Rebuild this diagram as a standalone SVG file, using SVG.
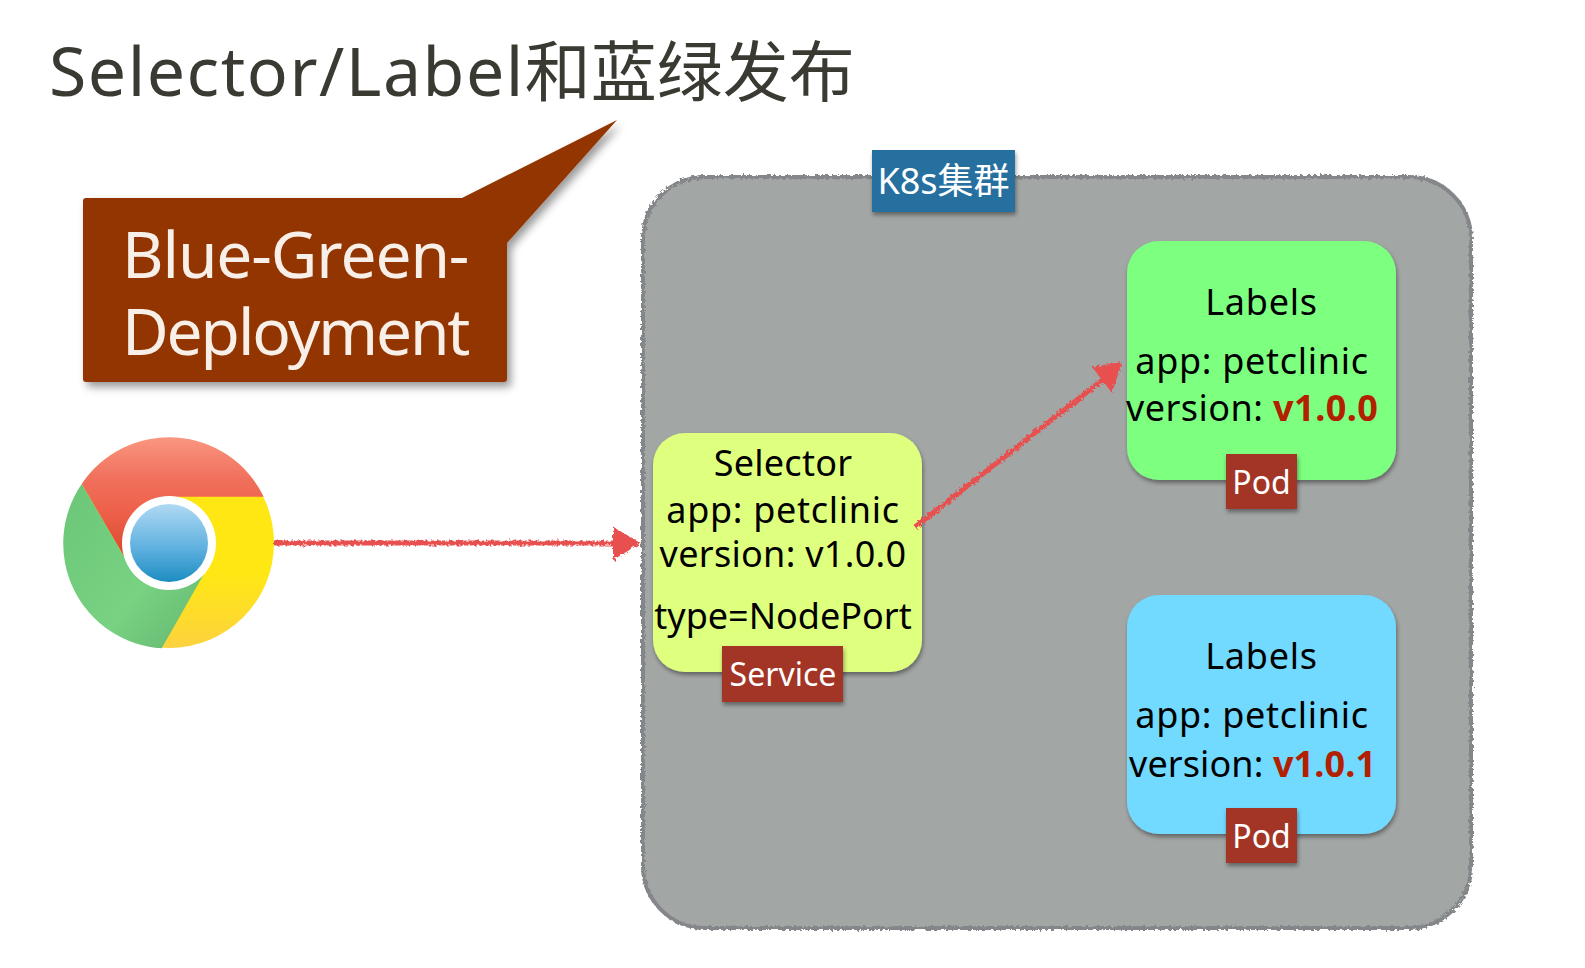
<svg xmlns="http://www.w3.org/2000/svg" width="1585" height="968" viewBox="0 0 1585 968">
<style>
text{font-family:"Noto Sans","Noto Sans CJK SC",sans-serif}
.t{font-size:36px;fill:#000;text-anchor:middle}
.app{letter-spacing:.7px}
.lab{letter-spacing:.75px}
.tag{font-size:32px;fill:#fff;text-anchor:middle}
.b{font-weight:700;fill:#b32000}
.tagbox{fill:#a33526;filter:url(#sh)}
.node{filter:url(#sh)}
.arrow{stroke:#e8504f;stroke-width:5;fill:none}
.head{fill:#e8504f}
.big{font-size:64px;fill:#f8f0e8}
</style>
<defs>
<filter id="sh" x="-20%" y="-20%" width="140%" height="140%"><feDropShadow dx="1" dy="3" stdDeviation="2" flood-color="#000" flood-opacity=".4"/></filter>
<filter id="sh2" x="-20%" y="-20%" width="140%" height="140%"><feDropShadow dx="4" dy="5" stdDeviation="4" flood-color="#000" flood-opacity=".4"/></filter>
<filter id="rough" x="-5%" y="-5%" width="110%" height="110%"><feTurbulence type="fractalNoise" baseFrequency=".35" numOctaves="2" seed="3"/><feDisplacementMap in="SourceGraphic" scale="5"/></filter>
<linearGradient id="r" x1="0" y1="0" x2="0" y2="1"><stop offset="0" stop-color="#fa9680"/><stop offset=".35" stop-color="#f0705c"/><stop offset=".65" stop-color="#ee5f49"/><stop offset="1" stop-color="#d9492f"/></linearGradient>
<linearGradient id="g" x1="0" y1="0" x2="1" y2="1"><stop offset="0" stop-color="#6cc678"/><stop offset=".6" stop-color="#78d282"/><stop offset="1" stop-color="#63b56f"/></linearGradient>
<linearGradient id="y" x1="0" y1="0" x2="0" y2="1"><stop offset="0" stop-color="#ffe714"/><stop offset=".65" stop-color="#ffe714"/><stop offset="1" stop-color="#fcd23e"/></linearGradient>
<linearGradient id="bl" x1="0" y1="0" x2="0" y2="1"><stop offset="0" stop-color="#b0d9f3"/><stop offset=".6" stop-color="#5aaede"/><stop offset="1" stop-color="#1d8cc0"/></linearGradient>
</defs>
<rect width="1585" height="968" fill="#fff"/>
<text x="49" y="96" font-size="68" fill="#3a3a33" id="title"><tspan letter-spacing="1.5">Selector/Label</tspan><tspan font-size="66">和蓝绿发布</tspan></text>
<g id="callout">
<path d="M83 201q0-3 3-3H462L617 120 507 243V379q0 3-3 3H86q-3 0-3-3Z" fill="#933500" filter="url(#sh2)"/>
<text class="big" x="122" y="278" letter-spacing="-1.1">Blue-Green-</text>
<text class="big" x="122" y="355" letter-spacing="-2.1">Deployment</text>
</g>
<g id="browser" transform="translate(1 1)">
<circle cx="168" cy="542" r="105" fill="url(#y)"/>
<path d="M80.7 483A105 105 0 0 1 262.7 495.7H168.3L122.7 555Z" fill="url(#r)"/>
<path d="M80.7 483L122.7 555 203 573 160.7 647.3A105 105 0 0 1 80.7 483Z" fill="url(#g)"/>
<circle cx="168" cy="542" r="47" fill="#fff"/>
<circle cx="168" cy="542" r="39" fill="url(#bl)"/>
</g>
<g id="cluster">
<rect x="643" y="177" width="828" height="751" rx="62" fill="#a2a6a4" stroke="#84868a" stroke-width="4" filter="url(#rough)"/>
<rect x="872" y="150" width="143" height="62" fill="#27709f" filter="url(#sh)"/>
<text x="943.5" y="194" font-size="36" fill="#fff" text-anchor="middle">K8s集群</text>
</g>
<g id="service">
<rect class="node" x="653" y="433" width="269" height="239" rx="32" fill="#dfff7f"/>
<text class="t" x="783" y="476" letter-spacing=".25">Selector</text>
<text class="t app" x="783" y="523">app: petclinic</text>
<text class="t" x="783" y="567" letter-spacing=".3">version: v1.0.0</text>
<text class="t" x="783" y="629">type=NodePort</text>
<rect class="tagbox" x="722" y="646" width="121" height="56"/>
<text class="tag" x="783" y="686">Service</text>
</g>
<g id="pod1">
<rect class="node" x="1127" y="241" width="269" height="239" rx="32" fill="#7dff80"/>
<text class="t lab" x="1261.5" y="315">Labels</text>
<text class="t app" x="1252" y="374">app: petclinic</text>
<text class="t" x="1126" y="421" letter-spacing=".45" style="text-anchor:start">version: <tspan class="b">v1.0.0</tspan></text>
<rect class="tagbox" x="1226" y="454" width="71" height="55"/>
<text class="tag" x="1261.5" y="494">Pod</text>
</g>
<g id="pod2">
<rect class="node" x="1127" y="595" width="269" height="239" rx="32" fill="#72d9ff"/>
<text class="t lab" x="1261.5" y="669">Labels</text>
<text class="t app" x="1252" y="728">app: petclinic</text>
<text class="t" x="1129" y="777" letter-spacing=".1" style="text-anchor:start">version: <tspan class="b">v1.0.1</tspan></text>
<rect class="tagbox" x="1226" y="808" width="71" height="55"/>
<text class="tag" x="1261.5" y="848">Pod</text>
</g>
<g id="connectors" filter="url(#rough)">
<path class="arrow" d="M274 543H620"/>
<path class="head" d="M613 527L641 543 613 560Z"/>
<path class="arrow" d="M915 527L1105 378"/>
<path class="head" d="M1092 367L1122 362 1112 393Z"/>
</g>
</svg>
